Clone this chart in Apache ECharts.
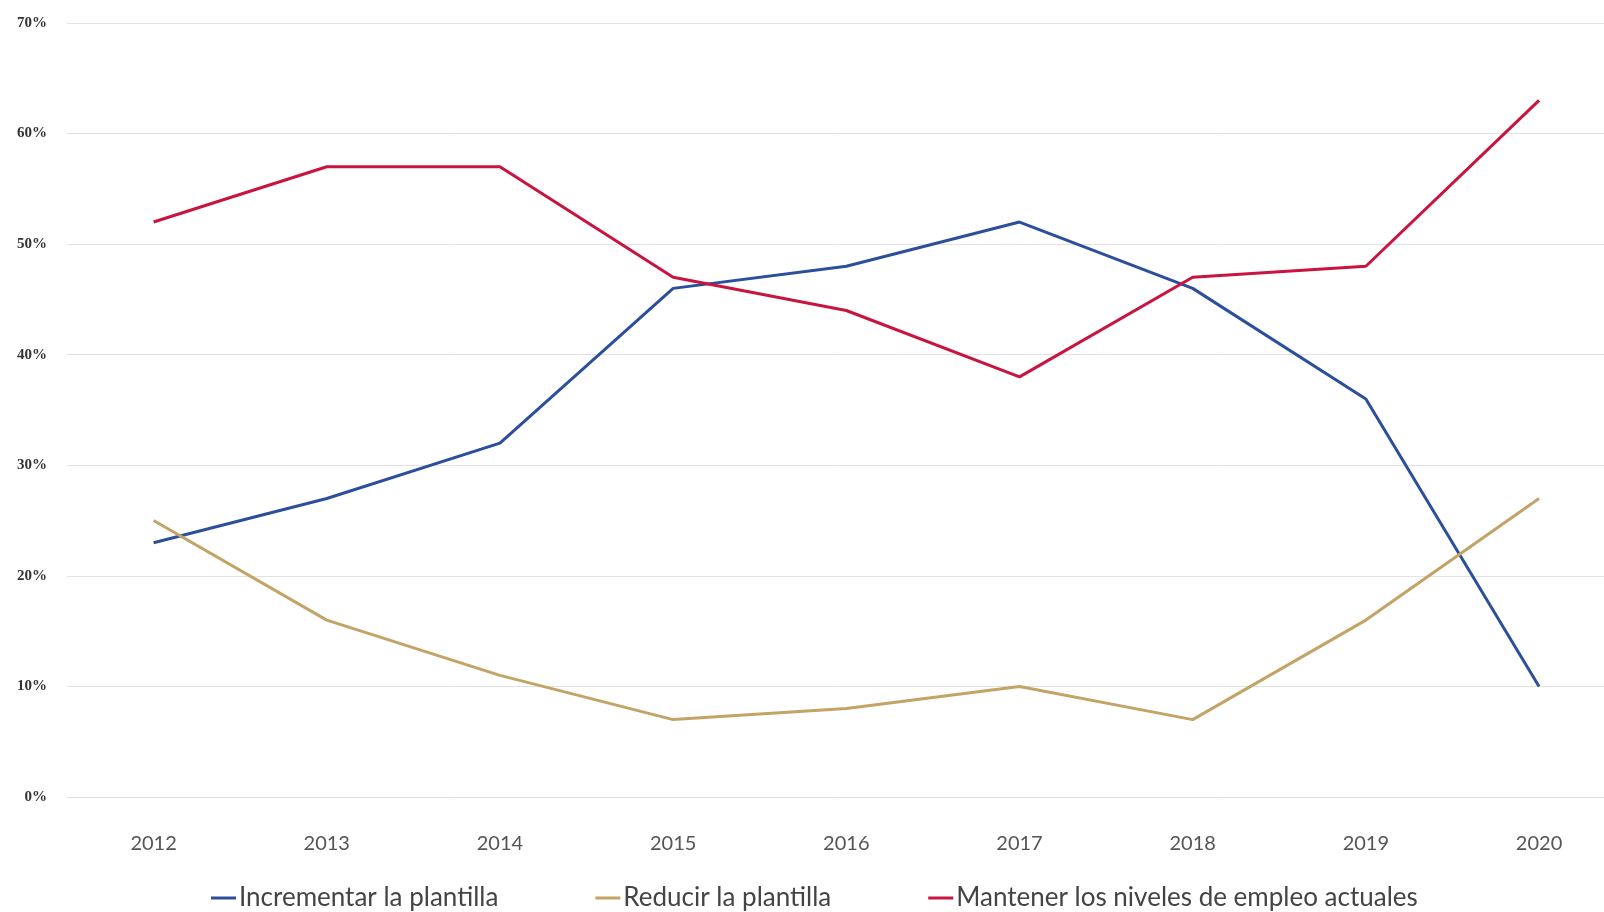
<!DOCTYPE html>
<html>
<head>
<meta charset="utf-8">
<script src="https://cdn.jsdelivr.net/npm/echarts@6/dist/echarts.min.js"></script>
<style>
html,body{margin:0;padding:0;background:#fff;}
#chart{width:1604px;height:912px;}
</style>
</head>
<body>
<div id="chart"></div>
<script>
const years = [2012, 2013, 2014, 2015, 2016, 2017, 2018, 2019, 2020];
const incrementar = [23, 27, 32, 46, 48, 52, 46, 36, 10];
const reducir = [25, 16, 11, 7, 8, 10, 7, 16, 27];
const mantener = [52, 57, 57, 47, 44, 38, 47, 48, 63];
const seriesNames = ['Incrementar la plantilla', 'Reducir la plantilla', 'Mantener los niveles de empleo actuales'];
const yTicks = [0, 10, 20, 30, 40, 50, 60, 70];

const chart = echarts.init(document.getElementById('chart'), null, {renderer: 'canvas'});
const lineSeries = (name, vals, color) => ({
  name, type: 'line', data: years.map((y, i) => [y, vals[i]]), symbol: 'none', smooth: false,
  lineStyle: {color, width: 3}, itemStyle: {color}
});
chart.setOption({
  backgroundColor: '#ffffff',
  animation: false,
  grid: {left: 67, right: 0, top: 23, bottom: 115},
  xAxis: {
    type: 'value', min: 2011.5, max: 2020.375,
    axisLine: {show: false}, axisTick: {show: false}, splitLine: {show: false},
    axisLabel: {customValues: years, formatter: v => String(v), margin: 37,
      color: '#555', fontFamily: 'Lato', fontSize: 20}
  },
  yAxis: {
    type: 'value', min: yTicks[0], max: yTicks[yTicks.length - 1], interval: 10,
    axisLine: {show: false}, axisTick: {show: false},
    splitLine: {lineStyle: {color: '#e3e3e3', width: 1}},
    axisLabel: {formatter: v => v + '%', margin: 20, color: '#333',
      fontFamily: 'Liberation Serif', fontWeight: 'bold', fontSize: 15}
  },
  legend: {
    left: 206, top: 880, icon: 'rect', itemWidth: 25, itemHeight: 3, itemGap: 97,
    textStyle: {fontFamily: 'Lato', fontSize: 26, color: '#444', padding: [0, 0, 10, -2]},
    data: seriesNames
  },
  series: [
    lineSeries(seriesNames[0], incrementar, '#2c4f9c'),
    lineSeries(seriesNames[1], reducir, '#c3a466'),
    lineSeries(seriesNames[2], mantener, '#c8143f')
  ]
});
</script>
</body>
</html>
